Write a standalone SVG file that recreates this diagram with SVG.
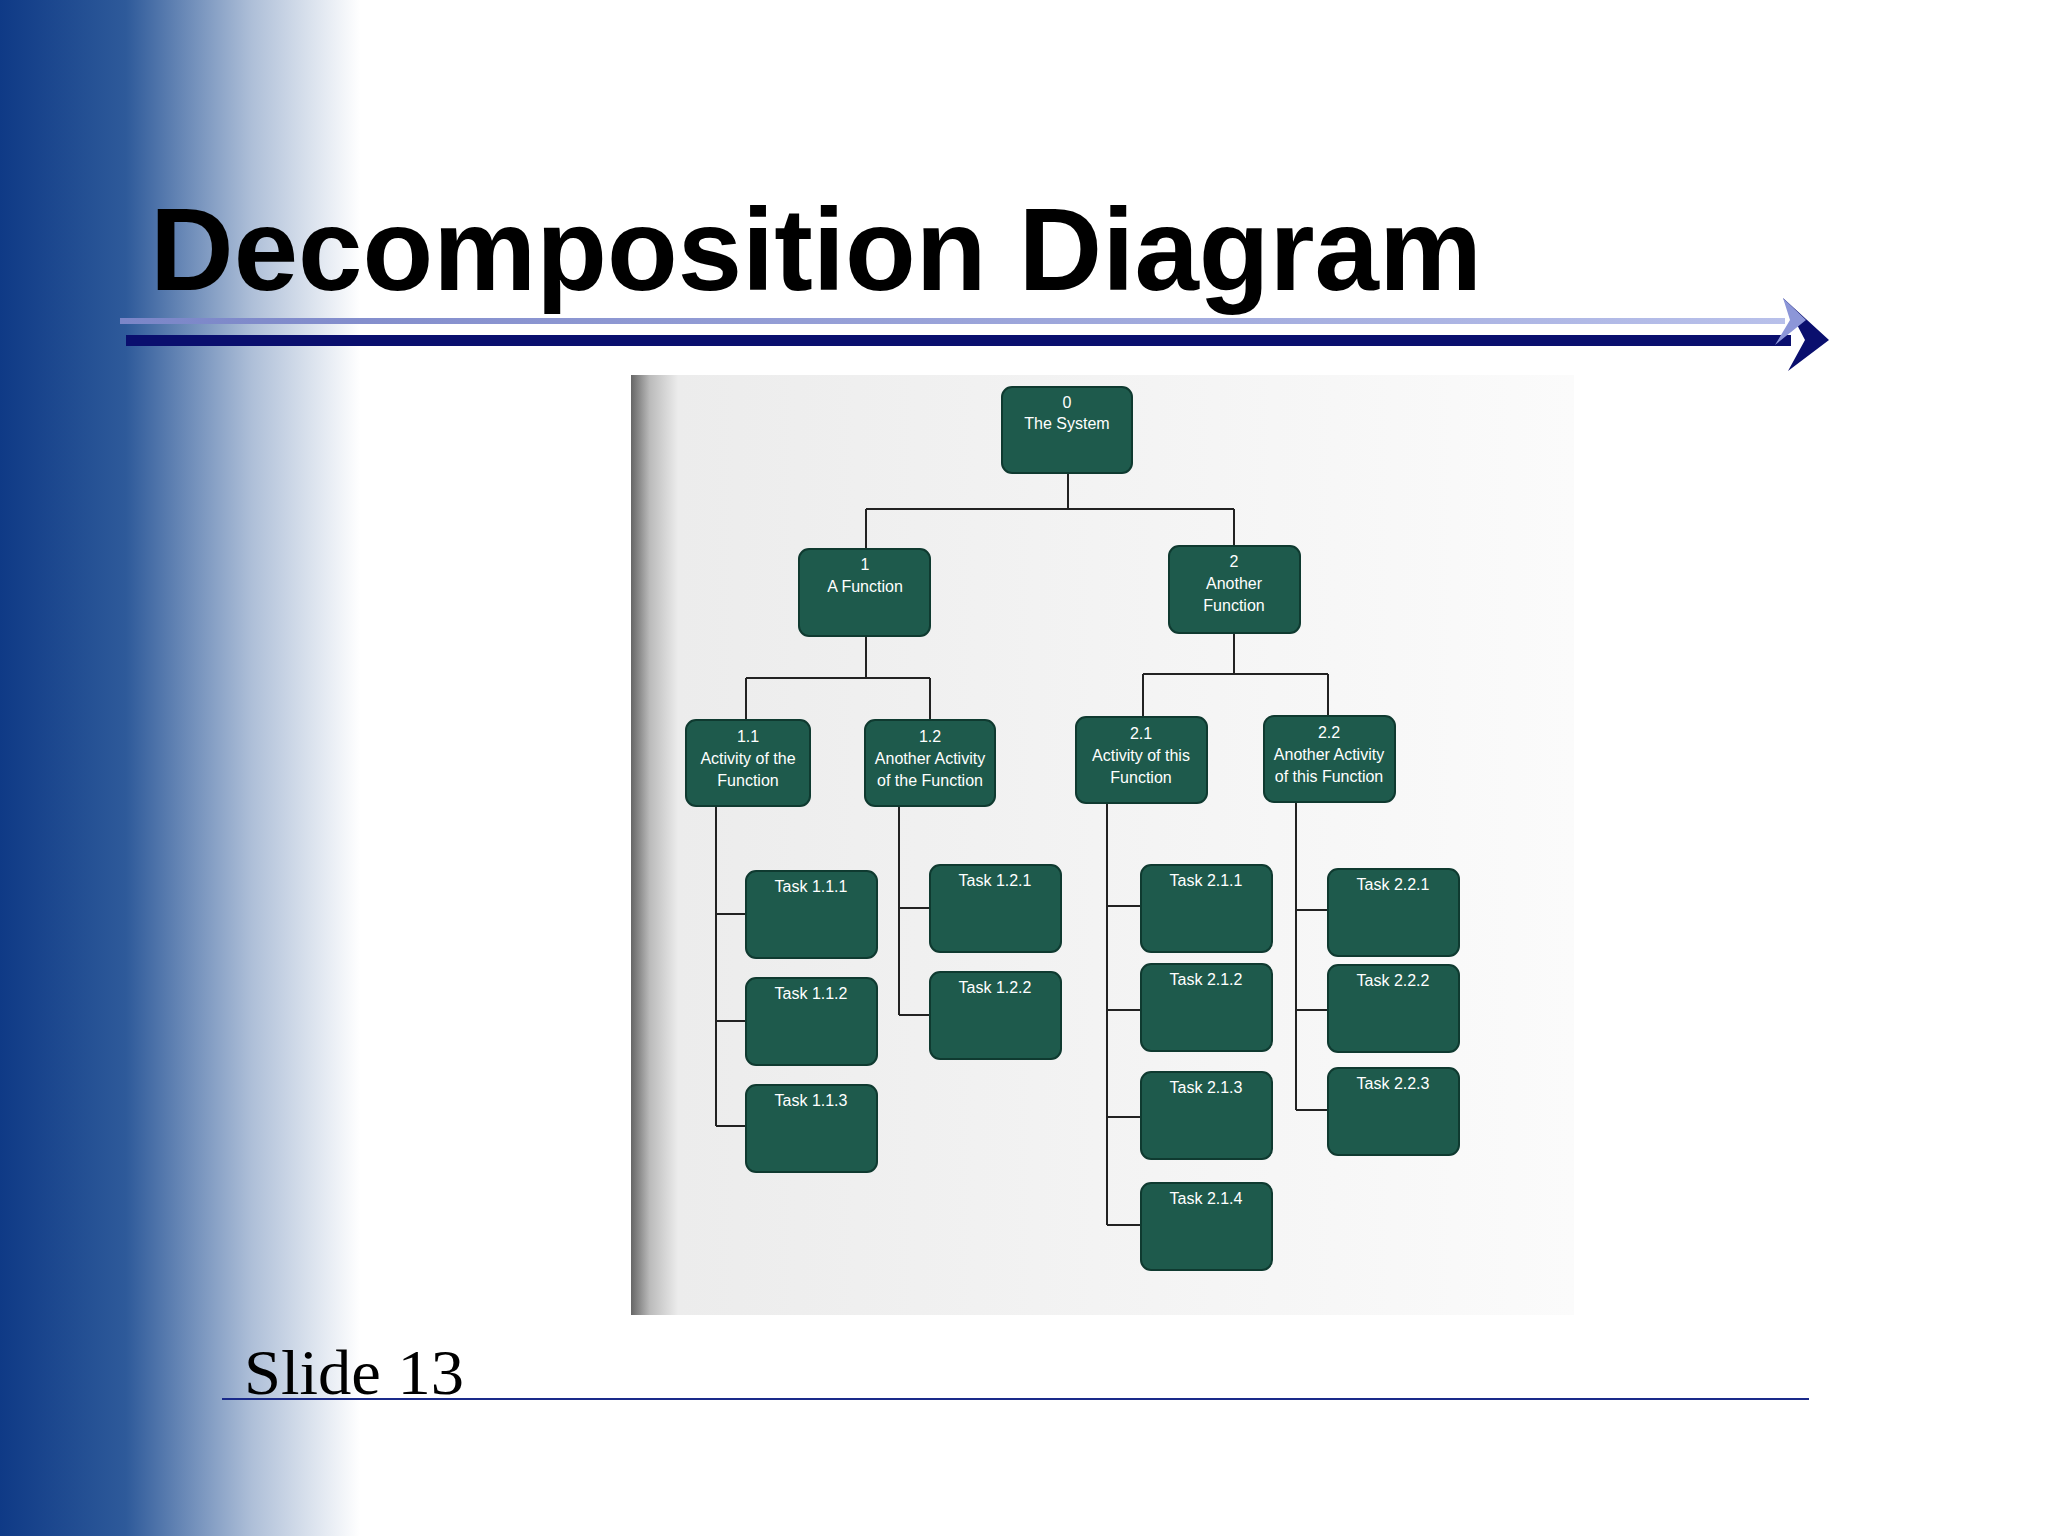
<svg xmlns="http://www.w3.org/2000/svg" width="2048" height="1536" viewBox="0 0 2048 1536">
<defs>
<linearGradient id="side" x1="0" x2="1" y1="0" y2="0">
<stop offset="0" stop-color="#0f3a86"/><stop offset="0.35" stop-color="#2e5a9a"/><stop offset="0.7" stop-color="#aebfd8"/><stop offset="1" stop-color="#ffffff"/>
</linearGradient>
<linearGradient id="photo" x1="0" x2="1" y1="0" y2="0">
<stop offset="0" stop-color="#666"/><stop offset="0.02" stop-color="#bbb"/><stop offset="0.05" stop-color="#ececec"/><stop offset="1" stop-color="#fbfbfb"/>
</linearGradient>
<linearGradient id="topline" x1="0" x2="1"><stop offset="0" stop-color="#7b86c8"/><stop offset="1" stop-color="#b8c0ea"/></linearGradient>
</defs>
<style>
.n rect{fill:#1e5a4c;stroke:#0f3a30;stroke-width:2}
.n text{fill:#fff;font-family:"Liberation Sans",Arial,sans-serif;font-size:16px;text-anchor:middle}
#connectors path{fill:none;stroke:#222;stroke-width:2}
</style>
<rect width="2048" height="1536" fill="#fff"/>
<rect x="0" y="0" width="360" height="1536" fill="url(#side)"/>
<text x="150" y="290" font-family="'Liberation Sans',Arial,sans-serif" font-weight="bold" font-size="116" textLength="1332" lengthAdjust="spacingAndGlyphs" fill="#000">Decomposition Diagram</text>
<rect x="120" y="318" width="1665" height="6" fill="url(#topline)"/>
<rect x="126" y="335" width="1665" height="11" fill="#0a0f6e"/>
<polygon points="1783,298 1829,340 1788,371 1805,340" fill="#0a0f6e"/>
<polygon points="1783,298 1806,320 1775,345 1790,320" fill="#8c96d8"/>
<rect x="631" y="375" width="943" height="940" fill="url(#photo)"/>
<g id="connectors">
<path d="M1068 473V509M866 509H1234M866 509V549M1234 509V546"/>
<path d="M866 636V678M746 678H930M746 678V720M930 678V720"/>
<path d="M1234 633V674M1143 674H1328M1143 674V717M1328 674V716"/>
<path d="M716 806V1126M716 914H746M716 1021H746M716 1126H746"/>
<path d="M899 806V1015M899 908H930M899 1015H930"/>
<path d="M1107 803V1225M1107 906H1141M1107 1010H1141M1107 1117H1141M1107 1225H1141"/>
<path d="M1296 802V1110M1296 910H1328M1296 1010H1328M1296 1110H1328"/>
</g>
<g id="n0" class="n"><rect x="1002" y="387" width="130" height="86" rx="10"/><text x="1067" y="408">0</text><text x="1067" y="429">The System</text></g>
<g id="n1" class="n"><rect x="799" y="549" width="131" height="87" rx="10"/><text x="865" y="570">1</text><text x="865" y="592">A Function</text></g>
<g id="n2" class="n"><rect x="1169" y="546" width="131" height="87" rx="10"/><text x="1234" y="567">2</text><text x="1234" y="589">Another</text><text x="1234" y="611">Function</text></g>
<g id="n11" class="n"><rect x="686" y="720" width="124" height="86" rx="10"/><text x="748" y="742">1.1</text><text x="748" y="764">Activity of the</text><text x="748" y="786">Function</text></g>
<g id="n12" class="n"><rect x="865" y="720" width="130" height="86" rx="10"/><text x="930" y="742">1.2</text><text x="930" y="764">Another Activity</text><text x="930" y="786">of the Function</text></g>
<g id="n21" class="n"><rect x="1076" y="717" width="131" height="86" rx="10"/><text x="1141" y="739">2.1</text><text x="1141" y="761">Activity of this</text><text x="1141" y="783">Function</text></g>
<g id="n22" class="n"><rect x="1264" y="716" width="131" height="86" rx="10"/><text x="1329" y="738">2.2</text><text x="1329" y="760">Another Activity</text><text x="1329" y="782">of this Function</text></g>
<g id="t111" class="n"><rect x="746" y="871" width="131" height="87" rx="10"/><text x="811" y="892">Task  1.1.1</text></g>
<g id="t112" class="n"><rect x="746" y="978" width="131" height="87" rx="10"/><text x="811" y="999">Task  1.1.2</text></g>
<g id="t113" class="n"><rect x="746" y="1085" width="131" height="87" rx="10"/><text x="811" y="1106">Task  1.1.3</text></g>
<g id="t121" class="n"><rect x="930" y="865" width="131" height="87" rx="10"/><text x="995" y="886">Task  1.2.1</text></g>
<g id="t122" class="n"><rect x="930" y="972" width="131" height="87" rx="10"/><text x="995" y="993">Task  1.2.2</text></g>
<g id="t211" class="n"><rect x="1141" y="865" width="131" height="87" rx="10"/><text x="1206" y="886">Task  2.1.1</text></g>
<g id="t212" class="n"><rect x="1141" y="964" width="131" height="87" rx="10"/><text x="1206" y="985">Task  2.1.2</text></g>
<g id="t213" class="n"><rect x="1141" y="1072" width="131" height="87" rx="10"/><text x="1206" y="1093">Task  2.1.3</text></g>
<g id="t214" class="n"><rect x="1141" y="1183" width="131" height="87" rx="10"/><text x="1206" y="1204">Task  2.1.4</text></g>
<g id="t221" class="n"><rect x="1328" y="869" width="131" height="87" rx="10"/><text x="1393" y="890">Task  2.2.1</text></g>
<g id="t222" class="n"><rect x="1328" y="965" width="131" height="87" rx="10"/><text x="1393" y="986">Task  2.2.2</text></g>
<g id="t223" class="n"><rect x="1328" y="1068" width="131" height="87" rx="10"/><text x="1393" y="1089">Task  2.2.3</text></g>
<text x="244" y="1394" font-family="'Liberation Serif','Times New Roman',serif" font-size="64" textLength="220" lengthAdjust="spacingAndGlyphs" fill="#000">Slide 13</text>
<rect x="222" y="1398" width="1587" height="2" fill="#1a2a8a"/>
</svg>
